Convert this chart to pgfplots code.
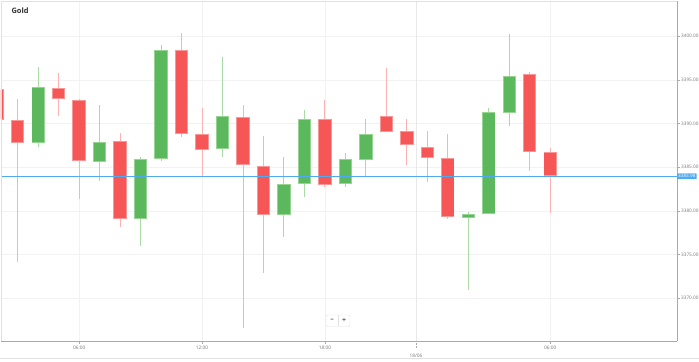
\documentclass[border=0pt]{standalone}
\usepackage{pgfplots}
\pgfplotsset{compat=1.18}
\usepackage{pgfplotstable}
\usepackage{fontspec}
\setmainfont{Open Sans}
\definecolor{gbody}{RGB}{92,184,92}
\definecolor{gedge}{RGB}{150,212,145}
\definecolor{gwick}{RGB}{170,218,165}
\definecolor{rbody}{RGB}{246,86,86}
\definecolor{redge}{RGB}{250,150,150}
\definecolor{rwick}{RGB}{250,178,178}
\definecolor{priceblue}{RGB}{80,170,240}
\definecolor{gridgray}{RGB}{242,242,242}
\definecolor{daygray}{RGB}{232,232,232}
\definecolor{axisgray}{RGB}{170,170,170}
\definecolor{framegray}{RGB}{225,225,225}
\definecolor{labelgray}{RGB}{120,120,120}
\definecolor{titlegray}{RGB}{50,50,50}

\pgfplotstableread{
x o h l c
0 3393.97 3394.20 3390.00 3390.42
1 3390.38 3392.85 3374.19 3387.78
3 3394.11 3395.76 3390.91 3392.82
4 3392.74 3392.80 3381.37 3385.72
6 3388.01 3388.89 3378.13 3379.11
9 3398.40 3400.41 3388.43 3388.81
10 3388.85 3391.76 3383.92 3386.98
12 3390.72 3392.13 3366.56 3385.23
13 3385.18 3388.58 3372.86 3379.54
16 3390.56 3392.71 3382.71 3383.01
19 3390.84 3396.37 3389.04 3389.04
20 3389.19 3390.53 3385.23 3387.55
21 3387.36 3389.12 3383.32 3386.10
22 3386.03 3388.81 3379.05 3379.31
26 3395.65 3395.95 3384.58 3386.75
27 3386.75 3387.24 3379.73 3383.98
}\reddata

\pgfplotstableread{
x o h l c
2 3387.78 3396.45 3387.29 3394.23
5 3385.64 3392.13 3383.43 3387.93
7 3379.11 3386.18 3376.02 3385.92
8 3385.92 3399.00 3385.72 3398.40
11 3387.06 3397.60 3386.21 3390.84
14 3379.54 3386.18 3376.98 3383.09
15 3383.12 3391.56 3381.63 3390.56
17 3383.05 3386.67 3382.71 3385.92
18 3385.84 3390.53 3384.00 3388.78
23 3379.19 3379.92 3370.95 3379.65
24 3379.65 3391.76 3379.65 3391.30
25 3391.22 3400.26 3389.73 3395.45
}\greendata

\pgfplotsset{
  candle/.style n args={3}{draw=none, mark=none, forget plot,
    error bars/.cd, y dir=both, y explicit, error mark=none,
    error bar style={line width=#1, draw=#2, solid}},
}

\begin{document}
\begin{tikzpicture}
\useasboundingbox (0bp,0bp) rectangle (699bp,362bp);
\fill[white] (0bp,0bp) rectangle (699bp,362bp);
\draw[framegray, line width=0.8bp] (0bp,4bp) -- (699bp,4bp);
\begin{axis}[
  at={(1bp,21bp)}, anchor=south west,
  scale only axis, width=676bp, height=340bp,
  xmin=0.1846, xmax=33.19, ymin=3365.11, ymax=3404.04,
  clip mode=individual,
  axis x line*=bottom, axis y line*=right,
  axis line style={draw=axisgray, line width=0.8bp},
  ytick={3370,3375,3380,3385,3390,3395,3400},
  yticklabels={3370.00,3375.00,3380.00,3385.00,3390.00,3395.00,3400.00},
  xtick={4,10,16,27},
  xticklabels={06:00,12:00,18:00,06:00},
  extra x ticks={20.45},
  extra x tick labels={18/06},
  extra x tick style={grid style={draw=daygray, line width=0.9bp}, major tick length=7bp, tick style={densely dotted}, xticklabel style={yshift=-4bp}},
  ymajorgrids, xmajorgrids,
  grid style={draw=gridgray, line width=0.8bp},
  tick align=outside, major tick length=3bp,
  tick style={draw=axisgray, line width=0.6bp},
  yticklabel style={font=\fontsize{4.7}{5}\selectfont, text=labelgray, inner sep=1bp},
  xticklabel style={font=\fontsize{4.8}{5}\selectfont, text=labelgray, inner sep=1.5bp},
]
% wicks
\addplot[candle={1bp}{rwick}{}]
  table[x=x, y expr={(\thisrow{h}+\thisrow{l})/2}, y error expr={(\thisrow{h}-\thisrow{l})/2}] {\reddata};
\addplot[candle={1bp}{gwick}{}]
  table[x=x, y expr={(\thisrow{h}+\thisrow{l})/2}, y error expr={(\thisrow{h}-\thisrow{l})/2}] {\greendata};
% bodies (edge)
\addplot[candle={13.3bp}{redge}{}]
  table[x=x, y expr={(\thisrow{o}+\thisrow{c})/2}, y error expr={abs(\thisrow{o}-\thisrow{c})/2}] {\reddata};
\addplot[candle={13.3bp}{gedge}{}]
  table[x=x, y expr={(\thisrow{o}+\thisrow{c})/2}, y error expr={abs(\thisrow{o}-\thisrow{c})/2}] {\greendata};
% bodies (fill)
\addplot[candle={11.5bp}{rbody}{}]
  table[x=x, y expr={(\thisrow{o}+\thisrow{c})/2}, y error expr={max(abs(\thisrow{o}-\thisrow{c})/2-0.1,0)}] {\reddata};
\addplot[candle={11.5bp}{gbody}{}]
  table[x=x, y expr={(\thisrow{o}+\thisrow{c})/2}, y error expr={max(abs(\thisrow{o}-\thisrow{c})/2-0.1,0)}] {\greendata};
% current price line
\addplot[priceblue, line width=0.8bp, mark=none] coordinates {(0.1846,3383.98) (33.19,3383.98)};
\draw[framegray, line width=0.8bp] (rel axis cs:0,0) -- (rel axis cs:0,1) -- (rel axis cs:1,1);
\node[fill=priceblue, text=white, font=\fontsize{4.7}{5}\selectfont, inner xsep=1bp, inner ysep=1.2bp, anchor=west, rounded corners=0.6bp] at (axis cs:33.19,3383.98) {3383.98};
\end{axis}
\node[anchor=west, font=\fontsize{7.5}{9}\selectfont\bfseries, text=titlegray] at (8bp,351bp) {Gold};
\draw[fill=white, draw=framegray, rounded corners=1bp] (326bp,35.5bp) rectangle (350bp,47bp);
\draw[framegray] (338bp,35.5bp) -- (338bp,47bp);
\node[font=\fontsize{7}{8}\selectfont\bfseries, text=labelgray!80!black] at (332bp,41.3bp) {–};
\node[font=\fontsize{7}{8}\selectfont\bfseries, text=labelgray!80!black] at (344bp,41.5bp) {+};
\end{tikzpicture}
\end{document}
